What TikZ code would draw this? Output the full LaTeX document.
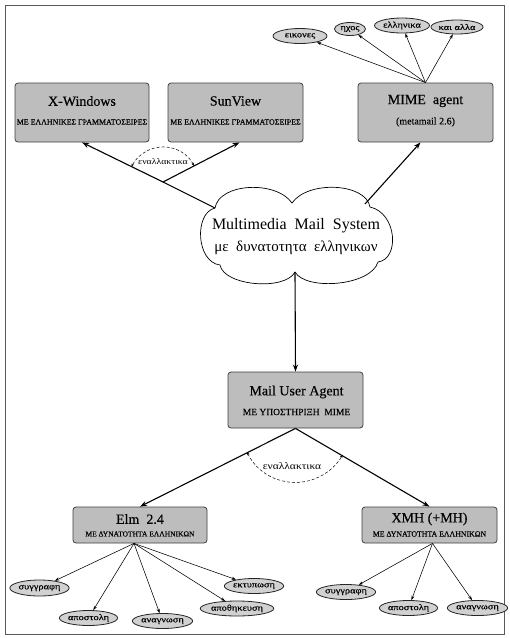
\documentclass[tikz,border=0pt]{standalone}
\usepackage{fontspec}
\setmainfont{Liberation Serif}
\newfontfamily\heavy[FakeBold=0.35]{Liberation Serif}
\newfontfamily\wide[FakeStretch=1.22,FakeBold=0.2]{Liberation Serif}
\newfontfamily\wideplain[FakeStretch=1.15]{Liberation Serif}
\usetikzlibrary{arrows.meta,shapes.geometric,calc}
\begin{document}
\begin{tikzpicture}[x=1pt,y=-1pt,
 box/.style={draw=black!75, fill=black!26, rounded corners=3pt, line width=0.8pt, inner sep=0},
 title/.style={inner sep=0, font=\heavy\fontsize{14}{14}\selectfont},
 sub/.style={inner sep=0, font=\heavy\fontsize{7.9}{8}\selectfont},
 oval/.style={ellipse, draw=black!85, fill=black!18, line width=0.8pt, inner sep=0, font=\wide\fontsize{8.5}{9}\selectfont},
 main/.style={line width=1.1pt, -{Stealth[length=7pt,width=5pt]}},
 thinarr/.style={line width=0.55pt, -{Stealth[length=4.5pt,width=3pt]}},
 alt/.style={densely dashed, line width=0.5pt, {Stealth[length=3pt,width=2.5pt]}-{Stealth[length=3pt,width=2.5pt]}},
 altlabel/.style={inner sep=0, font=\wideplain\fontsize{9}{9}\selectfont},
]
\useasboundingbox (0,0) rectangle (510,638);
\fill[white] (0,0) rectangle (510,638);
\draw[line width=0.8pt, black!65] (5,5) rectangle (504,634);

% top boxes
\node[box, minimum width=134, minimum height=59] (xw) at (82,112.5) {};
\node[title] (xwt) at (82,101) {X-Windows};
\node[sub] (xws) at (82,122) {ΜΕ ΕΛΛΗΝΙΚΕΣ ΓΡΑΜΜΑΤΟΣΕΙΡΕΣ};

\node[box, minimum width=135, minimum height=59] (sv) at (235.5,112.5) {};
\node[title] (svt) at (235.5,101) {SunView};
\node[sub] (svs) at (235.5,122) {ΜΕ ΕΛΛΗΝΙΚΕΣ ΓΡΑΜΜΑΤΟΣΕΙΡΕΣ};

\node[box, minimum width=135, minimum height=59] (mime) at (425.5,112.5) {};
\node[title] (mimet) at (425.5,101) {MIME\ \ agent};
\node[inner sep=0, font=\heavy\fontsize{10}{10}\selectfont] (mimes) at (425.5,122) {(metamail 2.6)};

% MIME ellipses
\node[oval, minimum width=54, minimum height=15] (m1) at (300,36) {εικονες};
\node[oval, minimum width=31, minimum height=13] (m2) at (350,29) {ηχος};
\node[oval, minimum width=55, minimum height=15] (m3) at (402,25.5) {ελληνικα};
\node[oval, minimum width=45, minimum height=14] (m4) at (457,27) {και αλλα};
\foreach \e in {m1,m2,m3,m4} \draw[thinarr] (mime.north) -- (\e);

% cloud
\draw[line width=0.7pt, fill=white]
 (215,208) .. controls (219,183) and (276,180) .. (292,203)
 .. controls (308,180) and (366,183) .. (370,207)
 .. controls (397,213) and (400,259) .. (378,262)
 .. controls (371,286) and (306,291) .. (295,272)
 .. controls (285,291) and (224,286) .. (220,265)
 .. controls (196,262) and (194,213) .. (215,208) -- cycle;
\node[inner sep=0, font=\fontsize{16}{16}\selectfont] (mms) at (296,226) {Multimedia\ \ Mail\ \ System};
\node[inner sep=0, font=\fontsize{15}{15}\selectfont] (mmg) at (296,248) {με\ \ δυνατοτητα\ \ ελληνικων};
\coordinate (clul) at (215,208);
\coordinate (clur) at (365,204);
\coordinate (clb) at (295,272);
\coordinate (jn) at (163,182);

\draw[main] (clul) -- (jn) -- (xw.south);
\draw[main] (jn) -- ([xshift=4]sv.south);
\draw[main] (clur) -- ([xshift=-5]mime.south);
\draw[alt] ($(jn)+(-27.5:35)$) arc[start angle=-27.5, end angle=-153.7, radius=35];
\node[altlabel, font=\wideplain\fontsize{8.5}{9}\selectfont] (alt1) at (163,162) {εναλλακτικα};

% Mail User Agent
\node[box, minimum width=135, minimum height=56] (mua) at (295.5,400) {};
\node[title] (muat) at (296.5,392) {Mail\ User\ Agent};
\node[sub, font=\heavy\fontsize{9.5}{10}\selectfont] (muas) at (296.5,412) {ΜΕ ΥΠΟΣΤΗΡΙΞΗ\ \ ΜΙΜΕ};
\draw[main] (clb) -- (mua.north);

% Elm and XMH
\node[box, minimum width=134, minimum height=36] (elm) at (140,525) {};
\node[title] (elmt) at (140,519) {Elm\ \ 2.4};
\node[sub, font=\heavy\fontsize{7.5}{8}\selectfont] (elms) at (140,534) {ΜΕ\ ΔΥΝΑΤΟΤΗΤΑ ΕΛΛΗΝΙΚΩΝ};

\node[box, minimum width=135, minimum height=36] (xmh) at (429.5,525) {};
\node[title] (xmht) at (429.5,519) {XMH (+MH)};
\node[sub, font=\heavy\fontsize{7.8}{8}\selectfont] (xmhs) at (429.5,534) {ΜΕ ΔΥΝΑΤΟΤΗΤΑ ΕΛΛΗΝΙΚΩΝ};

\draw[main] (mua.south) -- (elm.north);
\draw[main] (mua.south) -- (xmh.north);
\draw[alt] ($(mua.south)+(153.9:54)$) arc[start angle=153.9, end angle=29.4, radius=54];
\node[altlabel, font=\wideplain\fontsize{10}{10}\selectfont] (alt2) at (292,466) {εναλλακτικα};

% Elm ellipses
\node[oval, minimum width=55, minimum height=16] (e1) at (39.5,588) {συγγραφη};
\node[oval, minimum width=47, minimum height=15] (e2) at (88.5,618) {αποστολη};
\node[oval, minimum width=51, minimum height=15] (e3) at (162.5,621) {αναγνωση};
\node[oval, minimum width=64, minimum height=15] (e4) at (237,608.5) {αποθηκευση};
\node[oval, minimum width=52, minimum height=15] (e5) at (254,586) {εκτυπωση};
\coordinate (elmb) at ([xshift=-6]elm.south);
\foreach \e in {e1,e2,e3,e4,e5} \draw[thinarr] (elmb) -- (\e);

% XMH ellipses
\node[oval, minimum width=52, minimum height=15] (x1) at (346,592) {συγγραφη};
\node[oval, minimum width=53, minimum height=15] (x2) at (408.5,608) {αποστολη};
\node[oval, minimum width=51, minimum height=15] (x3) at (477.5,608) {αναγνωση};
\coordinate (xmhb) at ([xshift=3]xmh.south);
\foreach \e in {x1,x2,x3} \draw[thinarr] (xmhb) -- (\e);
\end{tikzpicture}
\end{document}
